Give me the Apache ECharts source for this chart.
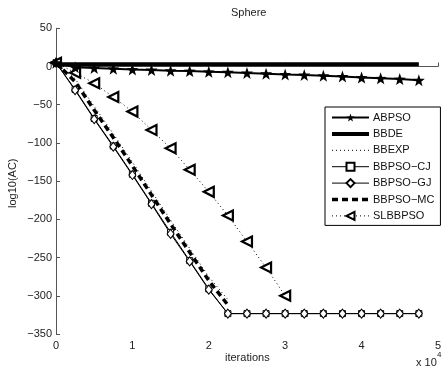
<!DOCTYPE html>
<html>
<head>
<meta charset="utf-8">
<script src="https://cdn.jsdelivr.net/npm/echarts@6/dist/echarts.min.js"></script>
<style>
html,body{margin:0;padding:0;background:#fff;}
#chart{width:444px;height:374px;}
</style>
</head>
<body>
<div id="chart"></div>
<script>
// iterations sampled every 2500
var iterations = [0,2500,5000,7500,10000,12500,15000,17500,20000,22500,25000,27500,30000,32500,35000,37500,40000,42500,45000,47500];
var xTicks = [0,1,2,3,4,5];
var yTicks = [50,0,-50,-100,-150,-200,-250,-300,-350];
var seriesNames = ['ABPSO','BBDE','BBEXP','BBPSO\u2212CJ','BBPSO\u2212GJ','BBPSO\u2212MC','SLBBPSO'];

var abpso   = [5,-1,-2,-3,-4,-4.5,-5.5,-6,-7,-7.5,-8.5,-9.5,-10.5,-11,-12,-13,-14.5,-15.5,-16.5,-18];
var bbde    = [3,3,3,3,3,3,3,3,3,3,3,3,3,3,3,3,3,3,3,3];
var bbexp   = [5,-16,-52,-88,-125,-163,-201,-238,-275,-305,null,null,null,null,null,null,null,null,null,null];
var bbpsoCJ = [5,-30,-68,-104,-141,-179,-217,-254,-291,-323.3,-323.3,-323.3,-323.3,-323.3,-323.3,-323.3,-323.3,-323.3,-323.3,-323.3];
var bbpsoGJ = [5,-31,-69,-105,-142,-180,-219,-255,-292,-323.3,-323.3,-323.3,-323.3,-323.3,-323.3,-323.3,-323.3,-323.3,-323.3,-323.3];
var bbpsoMC = [5,-20,-57,-93,-130,-168,-206,-243,-280,-312,null,null,null,null,null,null,null,null,null,null];
var slbbpso = [5,-8,-22,-40,-59,-83,-107,-135,-164,-195,-229,-263,-300,null,null,null,null,null,null,null];

function pts(vals){
  var out = [];
  for (var i = 0; i < iterations.length; i++) {
    if (vals[i] !== null) out.push([iterations[i], vals[i]]);
  }
  return out;
}
var FONT = 'Liberation Sans, Arial, Helvetica, sans-serif';
var STAR = 'path://M0,-10 L2.35,-3.24 L9.51,-3.09 L3.8,1.24 L5.88,8.09 L0,4 L-5.88,8.09 L-3.8,1.24 L-9.51,-3.09 L-2.35,-3.24 Z';
var TRI_LEFT = 'path://M0,5 L10,0 L10,10 Z';

var chart = echarts.init(document.getElementById('chart'), null, {renderer:'canvas'});
var option = {
  animation: false,
  backgroundColor: '#fff',
  grid: {left: 56, top: 28.3, width: 389, height: 305.7, containLabel: false},
  xAxis: {
    type: 'value', min: 0, max: 50000, interval: 10000,
    axisLine: {show: true, lineStyle: {color: '#555', width: 1}},
    axisTick: {show: true, inside: true, length: 4, lineStyle: {color: '#555'}},
    splitLine: {show: false},
    axisLabel: {color: '#222', fontSize: 11, fontFamily: FONT, margin: 6,
      formatter: function(v){ return String(v/10000); }}
  },
  yAxis: {
    type: 'value', min: -350, max: 50, interval: 50,
    axisLine: {show: true, lineStyle: {color: '#555', width: 1}},
    axisTick: {show: true, inside: true, length: 4, lineStyle: {color: '#555'}},
    splitLine: {show: false},
    axisLabel: {color: '#222', fontSize: 11, fontFamily: FONT, margin: 4,
      formatter: function(v){ return String(v).replace('-', '\u2212'); }}
  },
  legend: {
    left: 325, top: 107, orient: 'vertical',
    itemWidth: 37, itemHeight: 10, itemGap: 5.4,
    padding: [5, 6, 4, 5],
    borderColor: '#000', borderWidth: 1, backgroundColor: '#fff',
    textStyle: {color: '#111', fontSize: 11, lineHeight: 10, fontFamily: FONT, padding: [0,0,0,-1]},
    data: [
      {name: seriesNames[0], lineStyle: {width: 2}},
      {name: seriesNames[1], itemStyle: {opacity: 0}, lineStyle: {width: 4}},
      {name: seriesNames[2], itemStyle: {opacity: 0}, lineStyle: {width: 1, type: [1, 3]}},
      {name: seriesNames[3], lineStyle: {width: 1}},
      {name: seriesNames[4], lineStyle: {width: 1}},
      {name: seriesNames[5], itemStyle: {opacity: 0}, lineStyle: {width: 3.5, type: [6, 4]}},
      {name: seriesNames[6], lineStyle: {width: 1, type: [1, 3]}}
    ]
  },
  graphic: [
    {type: 'text', left: 231, top: 7, style: {text: 'Sphere', fontSize: 11, fontFamily: FONT, fill: '#222'}},
    {type: 'text', x: 225, y: 352, style: {text: 'iterations', fontSize: 11, fontFamily: FONT, fill: '#222'}},
    {type: 'text', x: 7, y: 208, rotation: Math.PI/2, style: {text: 'log10(AC)', fontSize: 11, fontFamily: FONT, fill: '#222'}},
    {type: 'text', x: 416, y: 357, style: {text: 'x 10', fontSize: 11, fontFamily: FONT, fill: '#222'}},
    {type: 'text', x: 437, y: 351, style: {text: '4', fontSize: 8, fontFamily: FONT, fill: '#222'}}
  ],
  series: [
    {name: seriesNames[0], type: 'line', data: pts(abpso), symbol: STAR, symbolSize: 12,
      lineStyle: {color: '#000', width: 2}, itemStyle: {color: '#000', borderWidth: 0}, z: 5},
    {name: seriesNames[1], type: 'line', data: pts(bbde), symbol: 'none',
      lineStyle: {color: '#000', width: 4}, itemStyle: {color: '#000'}, z: 4},
    {name: seriesNames[2], type: 'line', data: pts(bbexp), symbol: 'none',
      lineStyle: {color: '#000', width: 1, type: [1, 3]}, itemStyle: {color: '#000'}, z: 2},
    {name: seriesNames[3], type: 'line', data: pts(bbpsoCJ), symbol: 'rect', symbolSize: 6,
      lineStyle: {color: '#000', width: 1}, itemStyle: {color: '#fff', borderColor: '#000', borderWidth: 1}, z: 3},
    {name: seriesNames[4], type: 'line', data: pts(bbpsoGJ), symbol: 'diamond', symbolSize: [7, 9],
      lineStyle: {color: '#000', width: 1}, itemStyle: {color: '#fff', borderColor: '#000', borderWidth: 1}, z: 3},
    {name: seriesNames[5], type: 'line', data: pts(bbpsoMC), symbol: 'none',
      lineStyle: {color: '#000', width: 3.5, type: [6, 4]}, itemStyle: {color: '#000'}, z: 2},
    {name: seriesNames[6], type: 'line', data: pts(slbbpso), symbol: TRI_LEFT, symbolSize: 10,
      lineStyle: {color: '#000', width: 1, type: [1, 3]}, itemStyle: {color: '#fff', borderColor: '#000', borderWidth: 2.2}, z: 3}
  ]
};
chart.setOption(option);
</script>
</body>
</html>
